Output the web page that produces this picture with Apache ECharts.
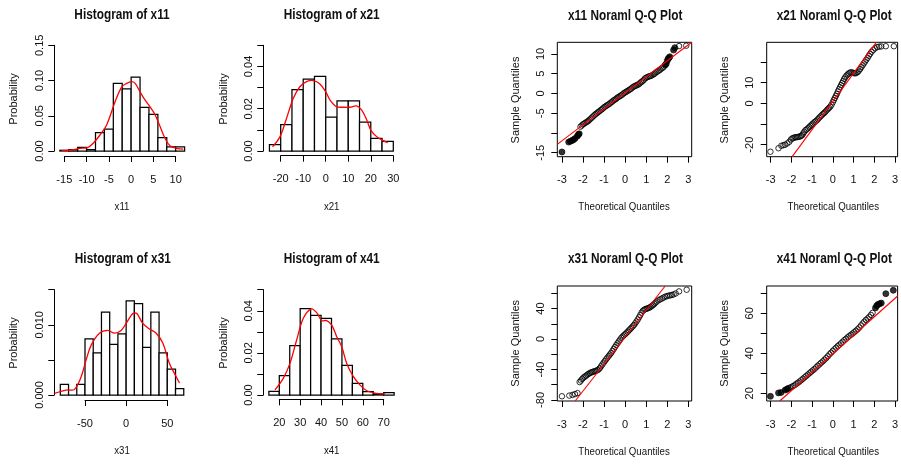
<!DOCTYPE html>
<html><head><meta charset="utf-8">
<script src="https://cdn.jsdelivr.net/npm/echarts@6/dist/echarts.min.js"></script>
<style>html,body{margin:0;padding:0;background:#fff}#c{width:901px;height:464px}</style>
</head><body><div id="c"></div>
<script>
// ---------- Histogram data (bin breaks + densities) ----------
const hist11Breaks = [-16,-14,-12,-10,-8,-6,-4,-2,0,2,4,6,8,10,12];
const hist11Dens   = [0.001,0.002,0.005,0.002,0.026,0.031,0.096,0.088,0.105,0.062,0.052,0.019,0.006,0.006];
const kde11 = [[-15.6,0.0005],[-13.3,0.0014],[-11.5,0.0038],[-9.8,0.0047],[-8.5,0.011],[-7.0,0.0227],[-5.5,0.037],[-3.6,0.07],[-2.1,0.091],[-1.0,0.096],[0.1,0.0984],[0.9,0.096],[2.0,0.084],[3.1,0.0724],[4.2,0.063],[5.4,0.051],[6.5,0.0346],[7.6,0.018],[8.7,0.0076],[10.2,0.0038],[11.7,0.0028]];
const hist11XTicks = [-15,-10,-5,0,5,10];
const hist11YTicks = [0,0.05,0.1,0.15];
const hist11YLabels = [0,0.05,0.1,0.15];

const hist21Breaks = [-25,-20,-15,-10,-5,0,5,10,15,20,25,30];
const hist21Dens   = [0.003,0.0125,0.029,0.034,0.0353,0.016,0.0237,0.0237,0.0137,0.006,0.0045];
const kde21 = [[-23.6,0.002],[-20.3,0.0068],[-17.4,0.0155],[-14.4,0.0249],[-11.5,0.0304],[-8.5,0.0328],[-5.5,0.0333],[-2.6,0.0317],[0,0.028],[1.9,0.0241],[4.8,0.021],[7.8,0.0207],[10.7,0.0207],[13.7,0.0213],[15.9,0.0194],[18.2,0.0147],[20,0.0099],[22.6,0.0068],[25.5,0.0049],[27.5,0.004]];
const hist21XTicks = [-20,-10,0,10,20,30];
const hist21YTicks = [0,0.01,0.02,0.03,0.04,0.05];
const hist21YLabels = [0,0.02,0.04];

const hist31Breaks = [-80,-70,-60,-50,-40,-30,-20,-10,0,10,20,30,40,50,60,70];
const hist31Dens   = [0.0015,0,0.0015,0.008,0.006,0.0118,0.0072,0.0087,0.0134,0.013,0.0068,0.0118,0.006,0.0037,0.0009];
const kde31 = [[-87,0.00024],[-72.9,0.0007],[-62.8,0.0008],[-54.7,0.0026],[-48.6,0.005],[-42.5,0.0071],[-32.4,0.0088],[-22.3,0.0092],[-14.2,0.0088],[-6.1,0.0092],[0,0.0102],[8.1,0.0116],[12.9,0.0116],[20.2,0.0102],[28.3,0.0094],[36.5,0.0088],[44.5,0.0074],[52.6,0.0045],[60.8,0.0026],[64.8,0.0017]];
const hist31XTicks = [-50,0,50];
const hist31YTicks = [0,0.005,0.01,0.015];
const hist31YLabels = [0,0.01];

const hist41Breaks = [15,20,25,30,35,40,45,50,55,60,65,70,75];
const hist41Dens   = [0.0017,0.0092,0.0234,0.041,0.0378,0.0364,0.0267,0.0141,0.0055,0.0016,0.0005,0.0011];
const kde41 = [[17.9,0.0024],[21.9,0.0079],[25.1,0.015],[28.3,0.0261],[31.5,0.0364],[35.2,0.0408],[37.9,0.0391],[40.3,0.0353],[42.7,0.0353],[45.1,0.0332],[47.5,0.0277],[49.9,0.0229],[52.3,0.015],[55.5,0.0087],[58.7,0.0047],[61.9,0.002],[66.7,0.0008],[70.7,0.0005]];
const hist41XTicks = [20,30,40,50,60,70];
const hist41YTicks = [0,0.01,0.02,0.03,0.04,0.05];
const hist41YLabels = [0,0.02,0.04];

// ---------- Q-Q data: [theoretical quantile, sample quantile] ----------
const qq11Open = [[-2.12,-8.4],[-2.06,-8.1],[-2.0,-7.8],[-1.94,-7.6],[-1.88,-7.4],[-1.82,-7.2],[-1.76,-7.0],[-1.7,-6.7],[-1.64,-6.4],[-1.58,-6.1],[-1.52,-5.8],[-1.46,-5.5],[-1.4,-5.2],[-1.34,-5.0],[-1.28,-4.7],[-1.22,-4.5],[-1.16,-4.2],[-1.1,-4.0],[-1.04,-3.7],[-0.98,-3.4],[-0.92,-3.2],[-0.86,-3.0],[-0.8,-2.8],[-0.74,-2.6],[-0.68,-2.3],[-0.62,-2.1],[-0.56,-1.8],[-0.5,-1.6],[-0.44,-1.4],[-0.38,-1.1],[-0.32,-0.9],[-0.26,-0.7],[-0.2,-0.5],[-0.14,-0.3],[-0.08,0.0],[-0.02,0.2],[0.04,0.4],[0.1,0.6],[0.16,0.8],[0.22,1.0],[0.28,1.2],[0.34,1.5],[0.4,1.7],[0.46,1.9],[0.52,2.0],[0.58,2.2],[0.64,2.3],[0.7,2.6],[0.76,2.9],[0.82,3.1],[0.88,3.4],[0.94,3.8],[1.0,4.0],[1.06,4.15],[1.12,4.3],[1.18,4.4],[1.24,4.5],[1.3,4.7],[1.36,4.9],[1.42,5.1],[1.48,5.4],[1.54,5.6],[1.6,5.8],[1.66,6.0],[1.72,6.3],[1.78,6.5],[1.84,6.8],[2.56,12.0],[2.9,12.1]];
const qq11Dense = [[-3.0,-14.8],[-2.68,-12.3],[-2.6,-12.1],[-2.52,-11.9],[-2.45,-11.7],[-2.38,-11.4],[-2.27,-10.8],[-2.22,-10.4],[-2.18,-10.2],[1.9,7.2],[1.95,7.5],[2.0,8.3],[2.04,8.8],[2.08,9.0],[2.12,9.3],[2.3,11.0],[2.36,11.6]];
const qq11Line = [[-3.22,-12.88],[3.16,12.96]];
const qq11XTicks = [-3,-2,-1,0,1,2,3];
const qq11YTicks = [-15,-10,-5,0,5,10];
const qq11YLabels = [-15,-5,0,5,10];

const qq21Open = [[-3.01,-23.4],[-2.62,-21.7],[-2.48,-20.5],[-2.38,-20.2],[-2.3,-20.0],[-2.2,-19.4],[-2.1,-18.6],[-2.02,-17.5],[-1.96,-17.0],[-1.9,-16.7],[-1.84,-16.5],[-1.78,-16.4],[-1.72,-16.3],[-1.66,-16.2],[-1.6,-16.1],[-1.54,-15.8],[-1.48,-15.4],[-1.43,-14.6],[-1.38,-13.8],[-1.32,-13.0],[-1.26,-12.6],[-1.2,-12.1],[-1.14,-11.5],[-1.08,-10.9],[-1.02,-10.3],[-0.96,-9.8],[-0.9,-9.2],[-0.84,-8.8],[-0.78,-8.3],[-0.72,-7.7],[-0.66,-7.0],[-0.6,-6.4],[-0.54,-5.8],[-0.48,-5.2],[-0.42,-4.7],[-0.36,-4.1],[-0.3,-3.4],[-0.24,-2.8],[-0.18,-2.2],[-0.12,-1.6],[-0.06,-0.7],[0.0,0.5],[0.05,1.6],[0.1,2.6],[0.15,3.6],[0.2,4.6],[0.25,5.8],[0.3,6.8],[0.35,7.8],[0.4,8.8],[0.45,9.8],[0.5,10.8],[0.55,11.8],[0.6,12.6],[0.66,13.4],[0.72,14.0],[0.78,14.5],[0.84,14.9],[0.9,15.0],[0.96,14.8],[1.02,14.6],[1.08,14.5],[1.14,14.7],[1.2,15.1],[1.26,15.8],[1.32,16.6],[1.38,17.5],[1.44,18.4],[1.5,19.3],[1.56,20.2],[1.62,21.1],[1.68,22.0],[1.74,23.0],[1.8,23.9],[1.87,24.9],[1.95,25.8],[2.04,26.6],[2.14,27.2],[2.24,27.4],[2.34,27.5],[2.56,27.6],[2.95,27.6]];
const qq21Dense = [];
const qq21Line = [[-1.96,-25.8],[2.1,29.5]];
const qq21XTicks = [-3,-2,-1,0,1,2,3];
const qq21YTicks = [-20,-10,0,10,20];
const qq21YLabels = [-20,0,10];

const qq31Open = [[-3.0,-75.2],[-2.65,-74.3],[-2.5,-73.4],[-2.38,-72.3],[-2.26,-71.0],[-2.16,-56.5],[-2.1,-54.5],[-2.04,-52.5],[-1.98,-50.8],[-1.92,-49.5],[-1.86,-48.3],[-1.8,-47.0],[-1.74,-45.8],[-1.68,-44.8],[-1.62,-44.0],[-1.56,-43.3],[-1.5,-42.8],[-1.44,-42.3],[-1.38,-41.7],[-1.32,-41.0],[-1.26,-40.0],[-1.2,-38.2],[-1.14,-35.8],[-1.08,-33.4],[-1.02,-31.0],[-0.96,-28.8],[-0.9,-26.6],[-0.84,-24.4],[-0.78,-22.3],[-0.72,-20.3],[-0.66,-18.2],[-0.6,-15.6],[-0.54,-13.0],[-0.48,-10.4],[-0.42,-7.9],[-0.36,-5.5],[-0.3,-3.2],[-0.24,-0.8],[-0.18,1.5],[-0.12,3.2],[-0.06,4.8],[0.0,6.3],[0.06,7.9],[0.12,9.6],[0.18,11.3],[0.24,13.0],[0.3,14.8],[0.36,16.6],[0.42,18.4],[0.48,20.6],[0.54,23.0],[0.6,25.6],[0.66,28.5],[0.72,31.5],[0.78,34.6],[0.84,37.0],[0.9,38.4],[0.96,39.2],[1.02,39.8],[1.08,40.4],[1.14,41.1],[1.2,42.0],[1.26,43.2],[1.32,44.5],[1.38,46.0],[1.44,47.6],[1.5,49.2],[1.58,50.8],[1.66,52.0],[1.74,53.1],[1.82,54.3],[1.9,55.5],[1.98,56.3],[2.06,56.9],[2.14,57.4],[2.22,57.8],[2.3,58.6],[2.4,59.8],[2.56,62.5],[2.92,64.7]];
const qq31Dense = [];
const qq31Line = [[-2.37,-81.4],[1.9,69.6]];
const qq31XTicks = [-3,-2,-1,0,1,2,3];
const qq31YTicks = [-80,-60,-40,-20,0,20,40,60];
const qq31YLabels = [-80,-40,0,40];

const qq41Open = [[-2.08,22.8],[-2.0,23.1],[-1.92,23.6],[-1.84,24.1],[-1.76,24.7],[-1.68,25.3],[-1.6,25.9],[-1.52,26.6],[-1.44,27.3],[-1.36,28.0],[-1.28,28.7],[-1.2,29.4],[-1.12,30.1],[-1.04,30.8],[-0.96,31.5],[-0.88,32.2],[-0.8,33.0],[-0.72,33.8],[-0.64,34.5],[-0.56,35.3],[-0.48,36.0],[-0.4,36.8],[-0.32,37.6],[-0.24,38.5],[-0.16,39.5],[-0.08,40.3],[0.0,41.2],[0.08,42.0],[0.16,42.8],[0.24,43.6],[0.32,44.3],[0.4,45.0],[0.48,45.8],[0.56,46.6],[0.64,47.3],[0.72,48.0],[0.8,48.7],[0.88,49.3],[0.96,49.9],[1.04,50.6],[1.12,51.3],[1.2,52.0],[1.28,52.9],[1.36,53.9],[1.44,54.9],[1.52,55.8],[1.6,56.7],[1.68,57.4],[1.76,58.2],[1.84,59.2],[1.92,60.2]];
const qq41Dense = [[-3.01,18.5],[-2.62,20.2],[-2.5,20.4],[-2.3,21.6],[-2.22,22.0],[-2.16,22.4],[2.06,62.7],[2.12,63.8],[2.18,64.4],[2.26,64.8],[2.34,65.1],[2.56,69.8],[2.92,71.5]];
const qq41Line = [[-2.56,16.15],[3.13,68.65]];
const qq41XTicks = [-3,-2,-1,0,1,2,3];
const qq41YTicks = [20,30,40,50,60,70];
const qq41YLabels = [20,40,60];

// ---------- Layout ----------
const FONT = "'Liberation Sans',Arial,Helvetica,sans-serif";
const TXT = '#111';

const hists = [
  {title:'Histogram of x11', xname:'x11', breaks:hist11Breaks, dens:hist11Dens, kde:kde11, xt:hist11XTicks, yt:hist11YTicks, yl:hist11YLabels, dec:2,
   g:{left:64.3, top:45.3, width:111.4, height:105.7}, xo:5, yo:10, tpos:[122,14.7], xpos:[122,207], ypos:[14,99]},
  {title:'Histogram of x21', xname:'x21', breaks:hist21Breaks, dens:hist21Dens, kde:kde21, xt:hist21XTicks, yt:hist21YTicks, yl:hist21YLabels, dec:2,
   g:{left:280.7, top:45.3, width:112.6, height:105.7}, xo:4.7, yo:17.4, tpos:[331.7,14.7], xpos:[331.7,207], ypos:[224,99]},
  {title:'Histogram of x31', xname:'x31', breaks:hist31Breaks, dens:hist31Dens, kde:kde31, xt:hist31XTicks, yt:hist31YTicks, yl:hist31YLabels, dec:3,
   g:{left:85, top:289.7, width:82.3, height:105.3}, xo:5, yo:30.7, tpos:[122.8,259], xpos:[122,451], ypos:[14,343]},
  {title:'Histogram of x41', xname:'x41', breaks:hist41Breaks, dens:hist41Dens, kde:kde41, xt:hist41XTicks, yt:hist41YTicks, yl:hist41YLabels, dec:2,
   g:{left:279.3, top:289.7, width:104.4, height:105.3}, xo:4.3, yo:16, tpos:[331.7,259], xpos:[331.7,451], ypos:[224,343]}
];
const qqs = [
  {title:'x11 Noraml Q-Q Plot', open:qq11Open, dense:qq11Dense, line:qq11Line, xt:qq11XTicks, yt:qq11YTicks, yl:qq11YLabels,
   g:{left:557.3, top:42.3, width:134.4, height:114.4}, xr:[-3.22,3.16], yr:[-16.0,12.96], tpos:[625.2,16.5], xpos:[624,207], ypos:[516,100]},
  {title:'x21 Noraml Q-Q Plot', open:qq21Open, dense:qq21Dense, line:qq21Line, xt:qq21XTicks, yt:qq21YTicks, yl:qq21YLabels,
   g:{left:766.7, top:42.3, width:133.3, height:114.4}, xr:[-3.19,3.13], yr:[-25.8,29.5], tpos:[834.2,16.5], xpos:[833.3,207], ypos:[725,100]},
  {title:'x31 Noraml Q-Q Plot', open:qq31Open, dense:qq31Dense, line:qq31Line, xt:qq31XTicks, yt:qq31YTicks, yl:qq31YLabels,
   g:{left:557.3, top:286, width:134.4, height:115}, xr:[-3.22,3.16], yr:[-81.4,69.6], tpos:[625.5,259.5], xpos:[624,451.7], ypos:[516,343.3]},
  {title:'x41 Noraml Q-Q Plot', open:qq41Open, dense:qq41Dense, line:qq41Line, xt:qq41XTicks, yt:qq41YTicks, yl:qq41YLabels,
   g:{left:766.7, top:286, width:133.3, height:115}, xr:[-3.19,3.13], yr:[16.15,73.65], tpos:[834.3,259.5], xpos:[833.3,451.7], ypos:[725,343.3]}
];

const grid = [], xAxis = [], yAxis = [], series = [], graphic = [];
// horizontal text in the reference is slightly condensed; scaleX reproduces that
function txt(text, pos, opts) {
  opts = opts || {};
  graphic.push({type:'text', x:pos[0], y:pos[1], rotation: opts.rot ? Math.PI/2 : 0,
    scaleX: opts.rot ? 1 : (opts.bold ? 0.845 : 0.88), silent:true,
    style:{text:text, align:'center', verticalAlign:'middle', fill:TXT,
      fontSize: opts.size || 11, fontWeight: opts.bold ? 'bold' : 'normal', fontFamily: FONT}});
}
const near = (arr, v) => arr.some(a => Math.abs(a - v) < 1e-9);

hists.forEach((h, i) => {
  grid.push(Object.assign({show:false}, h.g));
  xAxis.push({type:'value', gridIndex:i, min:h.xt[0], max:h.xt[h.xt.length-1], position:'bottom', offset:h.xo,
    axisLine:{show:true, onZero:false, lineStyle:{color:'#000', width:1}},
    axisTick:{show:true, length:6, lineStyle:{color:'#000'}, customValues:h.xt},
    axisLabel:{show:true, margin:18, color:TXT, fontSize:11, fontFamily:FONT, customValues:h.xt},
    splitLine:{show:false}});
  yAxis.push({type:'value', gridIndex:i, min:h.yt[0], max:h.yt[h.yt.length-1], position:'left', offset:h.yo,
    axisLine:{show:true, onZero:false, lineStyle:{color:'#000', width:1}},
    axisTick:{show:true, length:6, lineStyle:{color:'#000'}, customValues:h.yt},
    axisLabel:{show:true, rotate:90, margin:9, color:TXT, fontSize:11, fontFamily:FONT, customValues:h.yl,
      formatter: v => near(h.yl, v) ? Number(v).toFixed(h.dec) : ''},
    splitLine:{show:false}});
  const bins = h.dens.map((d, k) => [h.breaks[k], h.breaks[k+1], d]);
  series.push({type:'custom', xAxisIndex:i, yAxisIndex:i, clip:false, silent:true, data:bins,
    encode:{x:[0,1], y:2},
    renderItem:(params, api) => {
      const p0 = api.coord([api.value(0), api.value(2)]);
      const p1 = api.coord([api.value(1), 0]);
      return {type:'rect', shape:{x:p0[0], y:p0[1], width:p1[0]-p0[0], height:p1[1]-p0[1]},
        style:{fill:'#fff', stroke:'#000', lineWidth:1.25}};
    }});
  // density curve drawn as one smooth polyline through the axis scales (not clipped to tick range)
  series.push({type:'custom', xAxisIndex:i, yAxisIndex:i, clip:false, silent:true, data:h.kde, z:3,
    encode:{x:0, y:1},
    renderItem:(params, api) => {
      if (params.dataIndex !== 0) return null;
      const pts = h.kde.map(p => api.coord(p));
      return {type:'polyline', shape:{points:pts, smooth:0.35},
        style:{fill:null, stroke:'#ff0000', lineWidth:1.3}};
    }});
  txt(h.title, h.tpos, {size:14, bold:true});
  txt(h.xname, h.xpos);
  txt('Probability', h.ypos, {rot:true});
});

qqs.forEach((q, j) => {
  const i = j + 4;
  grid.push(Object.assign({show:true, borderColor:'#000', borderWidth:1, backgroundColor:'transparent'}, q.g));
  xAxis.push({type:'value', gridIndex:i, min:q.xr[0], max:q.xr[1], position:'bottom',
    axisLine:{show:false, onZero:false},
    axisTick:{show:true, length:6, lineStyle:{color:'#000'}, customValues:q.xt},
    axisLabel:{show:true, margin:18, color:TXT, fontSize:11, fontFamily:FONT, customValues:q.xt},
    splitLine:{show:false}});
  yAxis.push({type:'value', gridIndex:i, min:q.yr[0], max:q.yr[1], position:'left',
    axisLine:{show:false, onZero:false},
    axisTick:{show:true, length:6, lineStyle:{color:'#000'}, customValues:q.yt},
    axisLabel:{show:true, rotate:90, margin:11, color:TXT, fontSize:11, fontFamily:FONT, customValues:q.yl},
    splitLine:{show:false}});
  series.push({type:'scatter', xAxisIndex:i, yAxisIndex:i, data:q.open, symbol:'circle', symbolSize:5.5, silent:true,
    itemStyle:{color:'rgba(255,255,255,0)', borderColor:'#000', borderWidth:1}});
  if (q.dense.length) series.push({type:'scatter', xAxisIndex:i, yAxisIndex:i, data:q.dense, symbol:'circle', symbolSize:6, silent:true,
    itemStyle:{color:'#000', borderColor:'#000', borderWidth:0.8}});
  series.push({type:'line', xAxisIndex:i, yAxisIndex:i, data:q.line, showSymbol:false, clip:true, silent:true,
    lineStyle:{color:'#ff0000', width:1.1}, z:3});
  txt(q.title, q.tpos, {size:14, bold:true});
  txt('Theoretical Quantiles', q.xpos);
  txt('Sample Quantiles', q.ypos, {rot:true});
});

const chart = echarts.init(document.getElementById('c'), null, {renderer:'canvas'});
chart.setOption({animation:false, backgroundColor:'#fff', grid, xAxis, yAxis, series, graphic});
</script></body></html>
